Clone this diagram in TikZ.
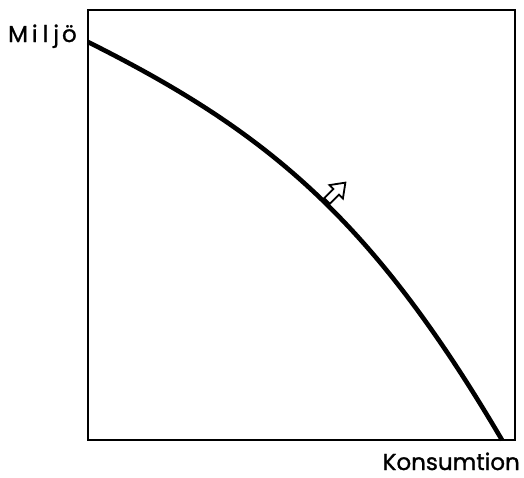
\documentclass[tikz,border=0pt]{standalone}
\usepackage{fontspec}
\setmainfont{Poppins}[FakeBold=1.2]
\begin{document}
\begin{tikzpicture}[x=1pt,y=-1pt,
  frame/.style={line width=2pt},
  curveline/.style={line width=4.6pt},
  hollowarrow/.style={draw, fill=white, line width=1.8pt, line join=miter},
  lbl/.style={inner sep=0pt, font=\fontsize{23}{26}\selectfont\addfontfeature{FakeBold=1.2}}]
\useasboundingbox (0,0) rectangle (524,477);
\draw[frame] (88,10) rectangle (515,440);
\draw[curveline] (88,42) .. controls (268,132) and (372,219) .. (502,440);
\begin{scope}[shift={(327,201)}, rotate=45]
  \draw[hollowarrow] (0,-4) -- (13,-4) -- (13,-9.5) -- (26,0) -- (13,9.5) -- (13,4) -- (0,4) -- cycle;
\end{scope}
\node[lbl, anchor=base west] (miljo) at (8,42) {M\kern4pt i\kern5pt l\kern5pt j\kern3pt ö};
\node[lbl, anchor=base east] (kons) at (520,470) {Konsumtion};
\end{tikzpicture}
\end{document}
